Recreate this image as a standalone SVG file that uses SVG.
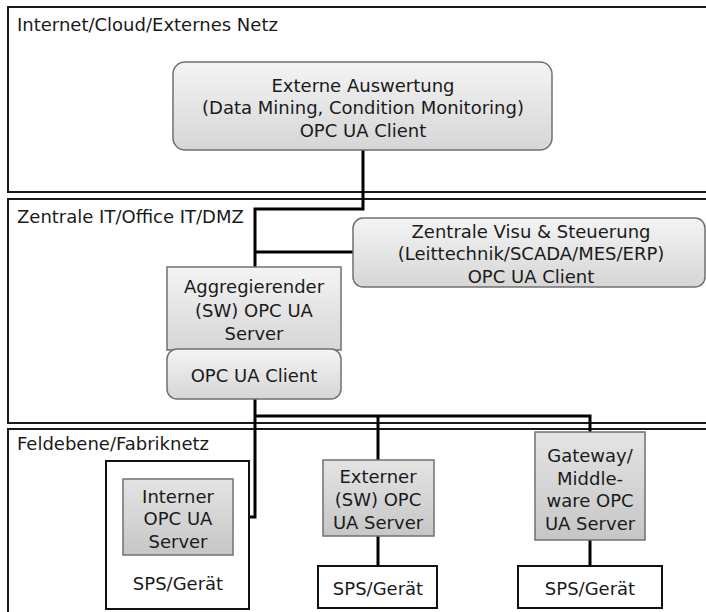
<svg xmlns="http://www.w3.org/2000/svg" width="706" height="612" viewBox="0 0 706 612">
<defs>
<linearGradient id="gLight" x1="0" y1="0" x2="0" y2="1">
<stop offset="0" stop-color="#f4f4f4"/>
<stop offset="1" stop-color="#d6d6d6"/>
</linearGradient>
<linearGradient id="gServer" x1="0" y1="0" x2="0" y2="1">
<stop offset="0" stop-color="#e4e4e4"/>
<stop offset="1" stop-color="#c6c6c6"/>
</linearGradient>
</defs>
<style>
text{font-family:"DejaVu Sans","Liberation Sans",sans-serif;font-size:18px;fill:#1a1a1a}
.c{text-anchor:middle}
.zone{fill:#fff;stroke:#1a1a1a;stroke-width:2}
.node{fill:url(#gLight);stroke:#707070;stroke-width:1.5}
.srv{fill:url(#gServer);stroke:#707070;stroke-width:1.5}
.sps{fill:#fff;stroke:#111;stroke-width:2}
.conn{fill:none;stroke:#000;stroke-width:3}
</style>
<rect width="706" height="612" fill="#fff"/>
<g id="zone-internet">
<rect class="zone" x="8" y="7" width="720" height="185"/>
<text x="17" y="31">Internet/Cloud/Externes Netz</text>
</g>
<g id="zone-it">
<rect class="zone" x="8" y="199" width="720" height="224"/>
<text x="17" y="223">Zentrale IT/Office IT/DMZ</text>
</g>
<g id="zone-feld">
<rect class="zone" x="8" y="429" width="720" height="220"/>
<text x="17" y="450">Feldebene/Fabriknetz</text>
</g>
<g id="connectors">
<polyline class="conn" points="363,150 363,209 255,209 255,267"/>
<line class="conn" x1="255" y1="252" x2="353" y2="252"/>
<polyline class="conn" points="255,399 255,517 233,517"/>
<polyline class="conn" points="255,416 590,416 590,432"/>
<line class="conn" x1="378" y1="416" x2="378" y2="460"/>
<line class="conn" x1="378" y1="536" x2="378" y2="566"/>
<line class="conn" x1="590" y1="540" x2="590" y2="566"/>
</g>
<g id="externe-auswertung">
<rect class="node" x="173" y="62" width="379" height="88" rx="12"/>
<text class="c" x="363" y="92">Externe Auswertung</text>
<text class="c" x="363" y="114">(Data Mining, Condition Monitoring)</text>
<text class="c" x="363" y="137">OPC UA Client</text>
</g>
<g id="zentrale-visu">
<rect class="node" x="353" y="218" width="352" height="69" rx="10"/>
<text class="c" x="531" y="238">Zentrale Visu &amp; Steuerung</text>
<text class="c" x="531" y="260">(Leittechnik/SCADA/MES/ERP)</text>
<text class="c" x="531" y="283">OPC UA Client</text>
</g>
<g id="aggregierender-server">
<rect class="node" x="167" y="267" width="174" height="83"/>
<text class="c" x="254" y="293">Aggregierender</text>
<text class="c" x="254" y="317">(SW) OPC UA</text>
<text class="c" x="254" y="340">Server</text>
</g>
<g id="aggregierender-client">
<rect class="node" x="167" y="349" width="174" height="50" rx="10"/>
<text class="c" x="254" y="382">OPC UA Client</text>
</g>
<g id="sps-1">
<rect class="sps" x="106" y="461" width="143" height="148"/>
<text class="c" x="178" y="590">SPS/Gerät</text>
</g>
<g id="interner-server">
<rect class="srv" x="123" y="479" width="110" height="76"/>
<text class="c" x="178" y="503">Interner</text>
<text class="c" x="178" y="525">OPC UA</text>
<text class="c" x="178" y="548">Server</text>
</g>
<g id="externer-server">
<rect class="srv" x="323" y="460" width="111" height="76"/>
<text class="c" x="378" y="483">Externer</text>
<text class="c" x="378" y="506">(SW) OPC</text>
<text class="c" x="378" y="529">UA Server</text>
</g>
<g id="sps-2">
<rect class="sps" x="318" y="566" width="119" height="42"/>
<text class="c" x="378" y="595">SPS/Gerät</text>
</g>
<g id="gateway-server">
<rect class="srv" x="535" y="432" width="110" height="108"/>
<text class="c" x="590" y="462">Gateway/</text>
<text class="c" x="590" y="485">Middle-</text>
<text class="c" x="590" y="507">ware OPC</text>
<text class="c" x="590" y="530">UA Server</text>
</g>
<g id="sps-3">
<rect class="sps" x="518" y="566" width="144" height="42"/>
<text class="c" x="590" y="595">SPS/Gerät</text>
</g>
</svg>
